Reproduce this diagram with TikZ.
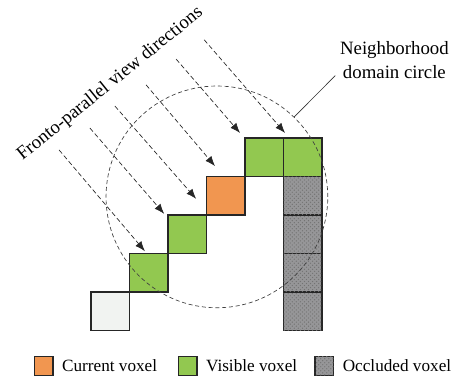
\documentclass[tikz,border=0pt]{standalone}
\usepackage{fontspec}
\setmainfont{Liberation Serif}
\usetikzlibrary{positioning,arrows.meta,patterns}
\definecolor{visgreen}{RGB}{146,200,80}
\definecolor{curorange}{RGB}{241,150,80}
\definecolor{occgray}{RGB}{150,150,152}
\definecolor{freecell}{RGB}{241,243,241}
\begin{document}
\begin{tikzpicture}[x=1cm,y=1cm,
  voxel/.style={draw=black!85,line width=0.9pt,minimum size=1cm,inner sep=0pt,outer sep=0pt},
  occluded/.style={voxel,fill=occgray,postaction={pattern=crosshatch dots,pattern color=black!55}},
  ray/.style={black!85,line width=0.5pt,dash pattern=on 3.5pt off 2pt,-{Latex[length=2.6mm,width=2mm]}},
  lbl/.style={font=\fontsize{13.9}{17.5}\selectfont,align=center},
  leg/.style={font=\fontsize{12.7}{15}\selectfont,inner sep=0pt}]
  \useasboundingbox (-2.364,-1.364) rectangle (9.61,8.584);
  % staircase of voxels, one cell = 1 unit
  \node[voxel,fill=freecell] (free) at (0.5,0.5) {};
  \foreach \i in {1,2} \node[voxel,fill=visgreen] (vis\i) at (\i+0.5,\i+0.5) {};
  \node[voxel,fill=curorange] (cur) at (3.5,3.5) {};
  \node[voxel,fill=visgreen] (vis3) at (4.5,4.5) {};
  \node[voxel,fill=visgreen] (vis4) at (5.5,4.5) {};
  \foreach \j in {1,...,4} \node[occluded] (occ\j) at (5.5,\j-0.5) {};
  % neighbourhood circle
  \node[circle,draw=black!75,line width=0.5pt,dash pattern=on 3pt off 2pt,
        minimum size=5.76cm,inner sep=0pt] (domain) at (3.27,3.47) {};
  \node[lbl] (nbh) at (7.88,7.03) {Neighborhood\\domain circle};
  \draw[black!80,line width=0.5pt] (nbh.195) -- (domain.46);
  % view directions
  \foreach \i/\sx/\sy/\ex/\ey in {1/-0.83/4.69/1.40/2.06, 2/-0.03/5.26/1.90/3.03,
      3/0.62/5.83/2.73/3.42, 4/1.43/6.38/3.22/4.27, 5/2.21/7.05/3.87/5.13,
      6/2.94/7.55/5.04/5.13} {
    \coordinate (src\i) at (\sx,\sy);
    \coordinate (tip\i) at (\ex,\ey);
    \draw[ray] (src\i) -- (tip\i);
  }
  \node[lbl,rotate=39] (dirs) at (0.5,6.4) {Fronto-parallel view directions};
  % legend
  \node[voxel,fill=curorange,minimum size=0.49cm] (lgcur) at (-1.23,-0.92) {};
  \node[leg,right=6.5pt of lgcur] (txcur) {Current voxel};
  \node[voxel,fill=visgreen,minimum size=0.49cm] (lgvis) at (2.51,-0.92) {};
  \node[leg,right=6.5pt of lgvis] (txvis) {Visible voxel};
  \node[occluded,minimum size=0.49cm] (lgocc) at (6.06,-0.92) {};
  \node[leg,right=6.5pt of lgocc] (txocc) {Occluded voxel};
\end{tikzpicture}
\end{document}
